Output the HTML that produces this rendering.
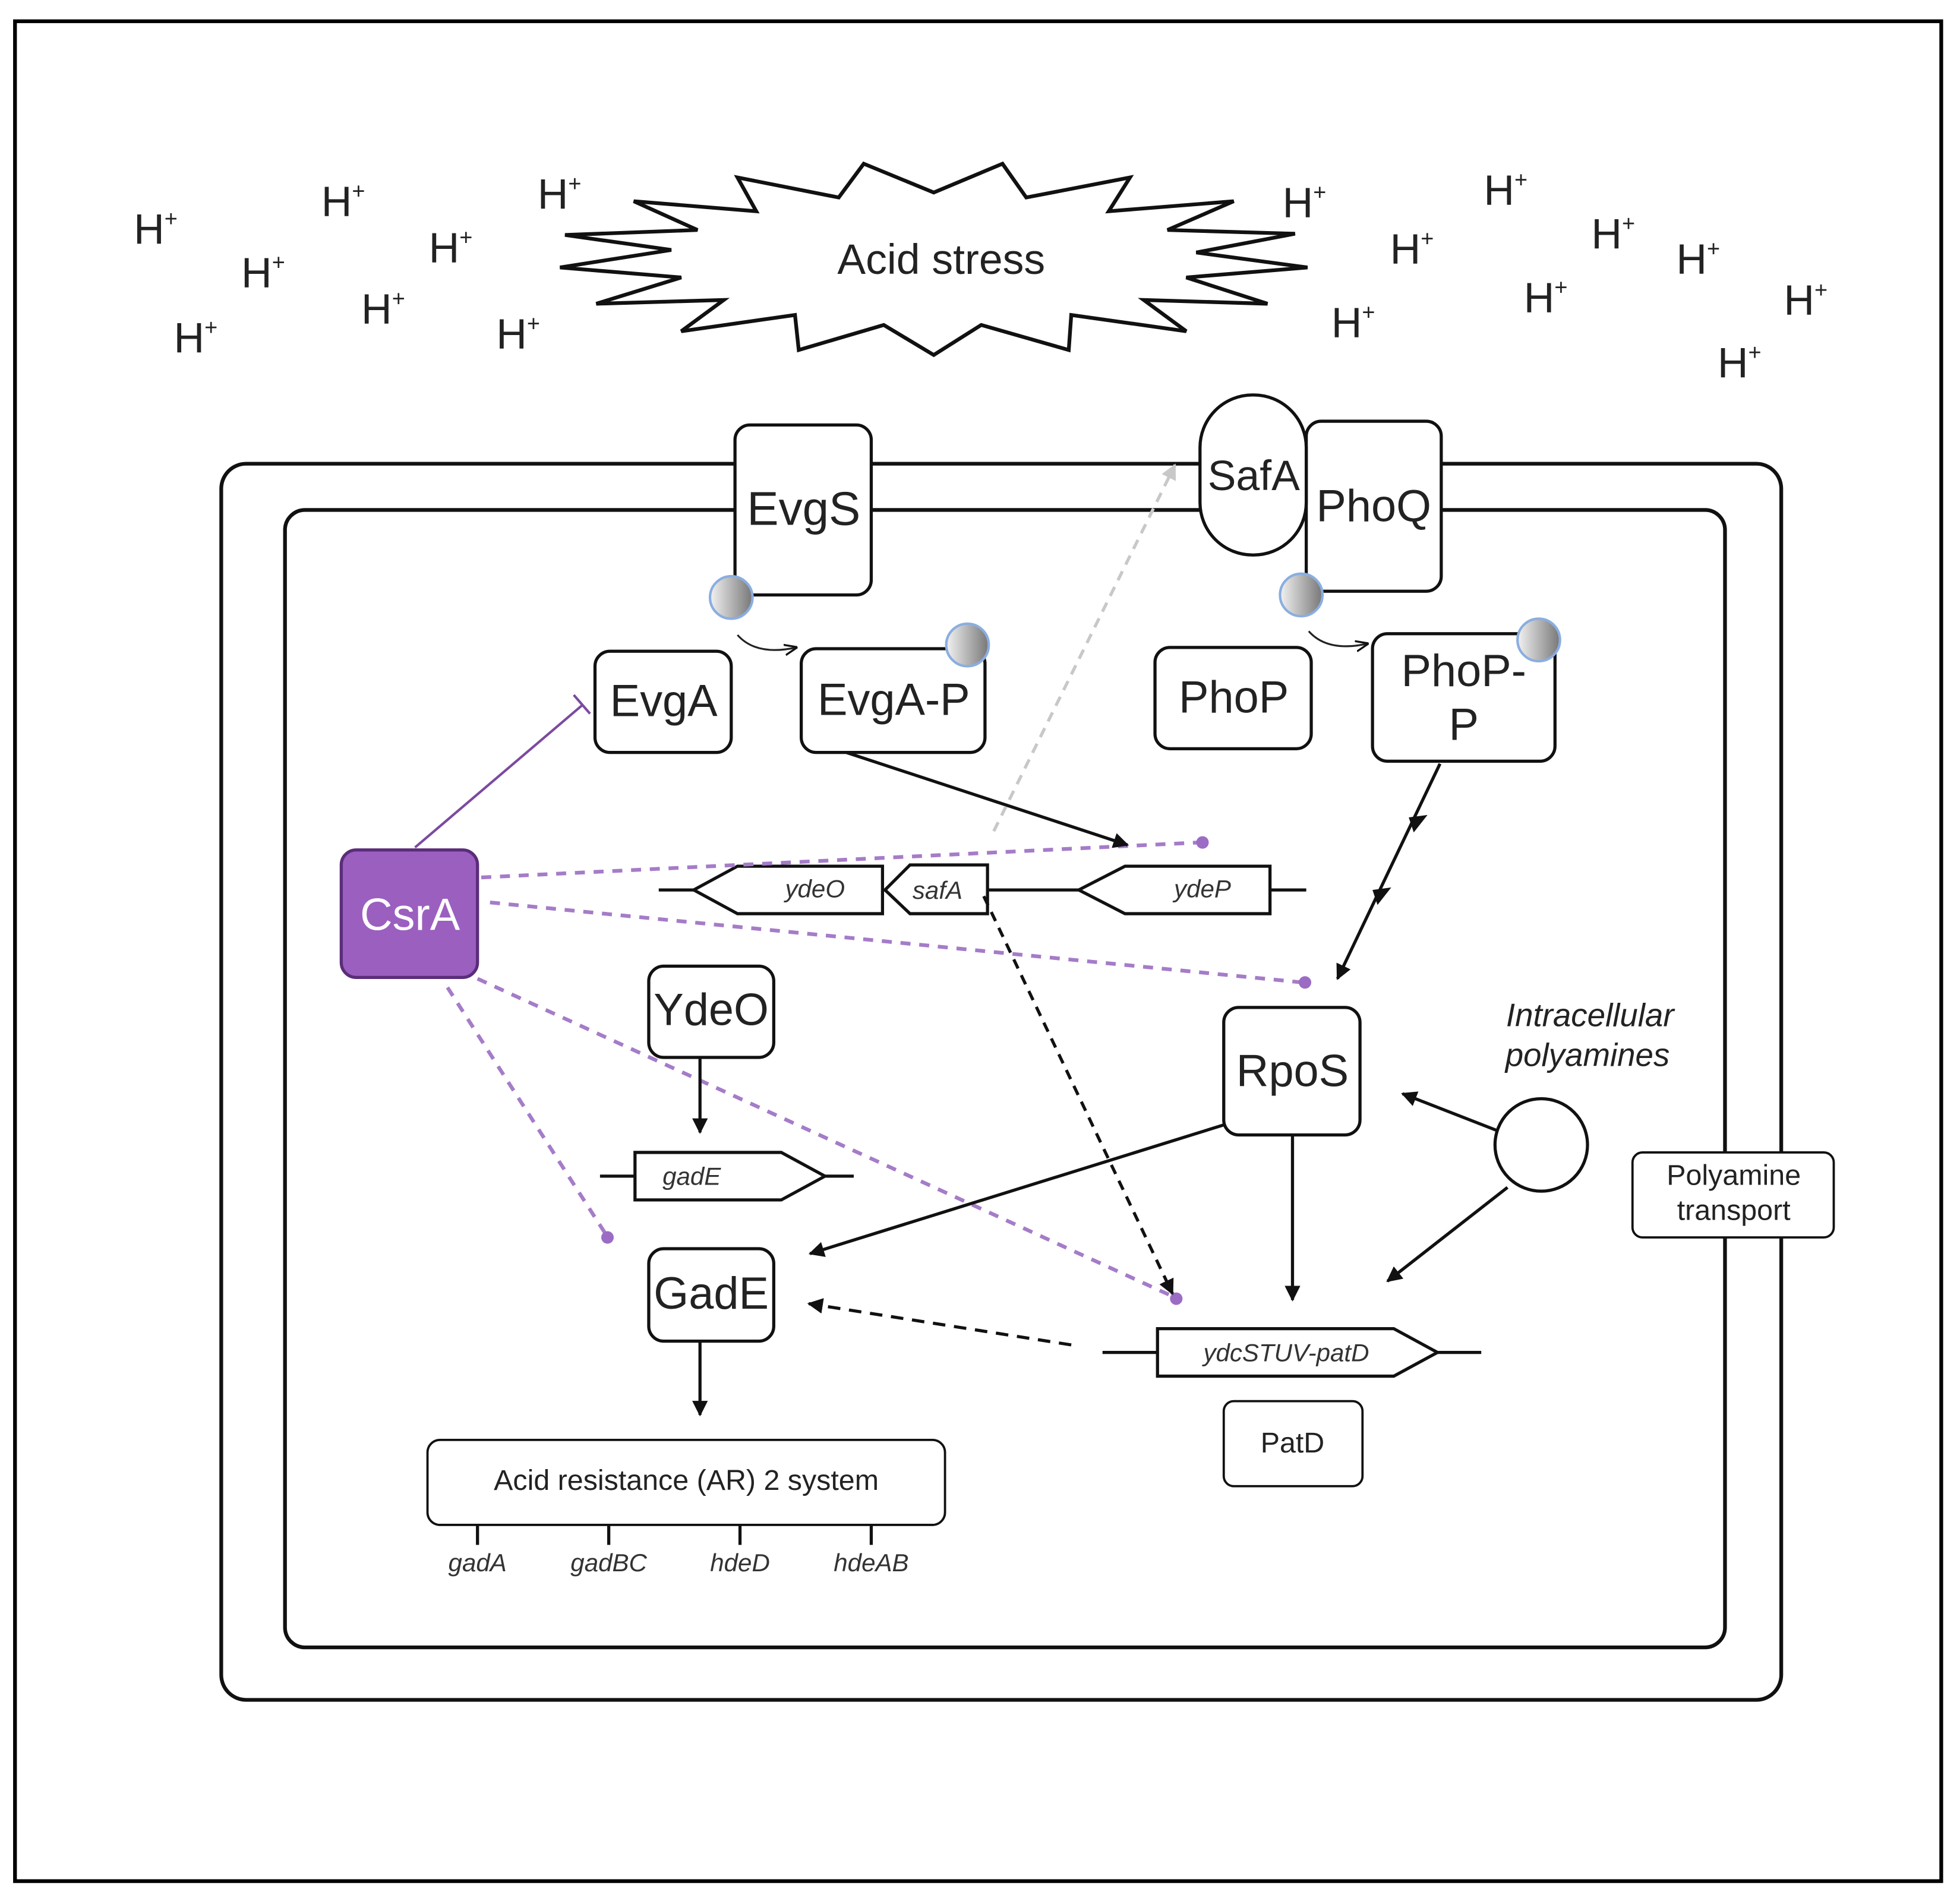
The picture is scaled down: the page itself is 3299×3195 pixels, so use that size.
<!DOCTYPE html>
<html><head><meta charset="utf-8"><style>
html,body{margin:0;padding:0;background:#fff;}
svg{display:block;}
text{font-family:"Liberation Sans",sans-serif;}
</style></head><body>
<svg width="3299" height="3195" viewBox="0 0 1568 1518.5" preserveAspectRatio="none" xmlns="http://www.w3.org/2000/svg">
<defs>
<marker id="ah" viewBox="0 0 10 10" refX="9" refY="5" markerWidth="5" markerHeight="5" orient="auto-start-reverse"><path d="M0,0 L10,5 L0,10 Z" fill="#111"/></marker>
<marker id="ahs" viewBox="0 0 10 10" refX="9" refY="5" markerWidth="7" markerHeight="7" orient="auto"><path d="M0,1 L10,5 L0,9" fill="none" stroke="#111" stroke-width="1.5"/></marker>
<marker id="ahg" viewBox="0 0 10 10" refX="9" refY="5" markerWidth="5" markerHeight="5" orient="auto"><path d="M0,0 L10,5 L0,10 Z" fill="#c8c8c8"/></marker>
<linearGradient id="gg" x1="0" y1="0" x2="1" y2="0"><stop offset="0" stop-color="#f2f2f2"/><stop offset="1" stop-color="#777"/></linearGradient>
</defs>
<rect width="1568" height="1518.5" fill="#fff"/>
<rect x="12" y="17" width="1541" height="1488" fill="none" stroke="#000" stroke-width="3"/>

<polygon points="691,131 747,154 802,131 821,158 904,142 887,169 987,161 934,184 1036,187 957,202 1046,214 949,222 1014,243 915,240 949,265 857,252 855,280 785,260 747,284 707,260 639,280 636,252 545,265 579,240 477,243 545,222 448,214 537,200 452,188 558,184 507,161 605,169 590,142 671,158" fill="#fff" stroke="#111" stroke-width="3"/>
<text x="753" y="219" font-size="34" text-anchor="middle" fill="#222">Acid stress</text>

<g font-size="34" fill="#222">
<text x="107" y="195">H<tspan font-size="18" dy="-14">+</tspan></text>
<text x="257" y="173">H<tspan font-size="18" dy="-14">+</tspan></text>
<text x="430" y="167">H<tspan font-size="18" dy="-14">+</tspan></text>
<text x="343" y="210">H<tspan font-size="18" dy="-14">+</tspan></text>
<text x="193" y="230">H<tspan font-size="18" dy="-14">+</tspan></text>
<text x="289" y="259">H<tspan font-size="18" dy="-14">+</tspan></text>
<text x="139" y="282">H<tspan font-size="18" dy="-14">+</tspan></text>
<text x="397" y="279">H<tspan font-size="18" dy="-14">+</tspan></text>
<text x="1026" y="174">H<tspan font-size="18" dy="-14">+</tspan></text>
<text x="1187" y="164">H<tspan font-size="18" dy="-14">+</tspan></text>
<text x="1112" y="211">H<tspan font-size="18" dy="-14">+</tspan></text>
<text x="1273" y="199">H<tspan font-size="18" dy="-14">+</tspan></text>
<text x="1341" y="219">H<tspan font-size="18" dy="-14">+</tspan></text>
<text x="1219" y="250">H<tspan font-size="18" dy="-14">+</tspan></text>
<text x="1065" y="270">H<tspan font-size="18" dy="-14">+</tspan></text>
<text x="1427" y="252">H<tspan font-size="18" dy="-14">+</tspan></text>
<text x="1374" y="302">H<tspan font-size="18" dy="-14">+</tspan></text>
</g>

<rect x="177" y="371" width="1248" height="989" rx="20" fill="none" stroke="#111" stroke-width="3"/>
<rect x="228" y="408" width="1152" height="910" rx="16" fill="none" stroke="#111" stroke-width="3"/>

<g fill="#fff" stroke="#111" stroke-width="2.5">
<rect x="588" y="340" width="109" height="136" rx="12"/>
<rect x="1045" y="337" width="108" height="136" rx="12"/>
<rect x="960" y="316" width="85" height="128" rx="42"/>
</g>
<text x="643" y="420" font-size="38" text-anchor="middle" fill="#222">EvgS</text>
<text x="1003" y="392" font-size="34" text-anchor="middle" fill="#222">SafA</text>
<text x="1099" y="417" font-size="36" text-anchor="middle" fill="#222">PhoQ</text>

<path d="M590,508 Q605,525 637,518" fill="none" stroke="#222" stroke-width="1.5" marker-end="url(#ahs)"/>
<path d="M1047,505 Q1062,522 1094,515" fill="none" stroke="#222" stroke-width="1.5" marker-end="url(#ahs)"/>

<g fill="#fff" stroke="#111" stroke-width="2.5">
<rect x="476" y="521" width="109" height="81" rx="12"/>
<rect x="641" y="519" width="147" height="83" rx="12"/>
<rect x="924" y="518" width="125" height="81" rx="12"/>
<rect x="1098" y="507" width="146" height="102" rx="12"/>
<rect x="519" y="773" width="100" height="73" rx="12"/>
<rect x="519" y="999" width="100" height="74" rx="12"/>
<rect x="979" y="806" width="109" height="102" rx="12"/>
</g>
<g fill="url(#gg)" stroke="#8aaee0" stroke-width="2">
<circle cx="585" cy="478" r="17"/>
<circle cx="1041" cy="476" r="17"/>
<circle cx="774" cy="516" r="17"/>
<circle cx="1231" cy="512" r="17"/>
</g>
<g fill="#fff" stroke="#111" stroke-width="1.8">
<rect x="1306" y="922" width="161" height="68" rx="8"/>
<rect x="979" y="1121" width="111" height="68" rx="8"/>
<rect x="342" y="1152" width="414" height="68" rx="10"/>
</g>
<rect x="273" y="680" width="109" height="102" rx="12" fill="#9b5fc0" stroke="#5a2d7a" stroke-width="2.5"/>

<g font-size="36" fill="#222" text-anchor="middle">
<text x="531" y="573">EvgA</text>
<text x="715" y="572">EvgA-P</text>
<text x="987" y="570">PhoP</text>
<text x="1171" y="549">PhoP-</text>
<text x="1171" y="592">P</text>
<text x="569" y="820">YdeO</text>
<text x="569" y="1047">GadE</text>
<text x="1034" y="869">RpoS</text>
</g>
<text x="328" y="744" font-size="36" fill="#fff" text-anchor="middle">CsrA</text>
<g font-size="23" fill="#222" text-anchor="middle">
<text x="1387" y="948">Polyamine</text>
<text x="1387" y="976">transport</text>
<text x="1034" y="1162">PatD</text>
<text x="549" y="1192">Acid resistance (AR) 2 system</text>
</g>
<g font-size="26" fill="#222" font-style="italic" text-anchor="middle">
<text x="1272" y="821">Intracellular</text>
<text x="1270" y="853">polyamines</text>
</g>

<g stroke="#111" stroke-width="2.5">
<line x1="382" y1="1220" x2="382" y2="1236"/>
<line x1="487" y1="1220" x2="487" y2="1236"/>
<line x1="592" y1="1220" x2="592" y2="1236"/>
<line x1="697" y1="1220" x2="697" y2="1236"/>
</g>
<g font-size="20" fill="#333" font-style="italic" text-anchor="middle">
<text x="382" y="1257">gadA</text>
<text x="487" y="1257">gadBC</text>
<text x="592" y="1257">hdeD</text>
<text x="697" y="1257">hdeAB</text>
</g>

<g fill="#fff" stroke="#111" stroke-width="2.5">
<line x1="527" y1="712" x2="1045" y2="712"/>
<polygon points="555,712 590,693 706,693 706,731 590,731"/>
<polygon points="708,712 728,692 790,692 790,731 728,731"/>
<polygon points="863,712 900,693 1016,693 1016,731 900,731"/>
<line x1="480" y1="941" x2="683" y2="941"/>
<polygon points="508,922 625,922 660,941 625,960 508,960"/>
<line x1="882" y1="1082" x2="1185" y2="1082"/>
<polygon points="926,1063 1115,1063 1150,1082 1115,1101 926,1101"/>
</g>
<g font-size="20" fill="#333" font-style="italic">
<text x="652" y="718" text-anchor="middle">ydeO</text>
<text x="750" y="719" text-anchor="middle">safA</text>
<text x="962" y="718" text-anchor="middle">ydeP</text>
<text x="530" y="948">gadE</text>
<text x="1029" y="1089" text-anchor="middle">ydcSTUV-patD</text>
</g>

<line x1="332" y1="678" x2="466" y2="564" stroke="#7b4aa0" stroke-width="2"/>
<line x1="459" y1="556" x2="472" y2="571" stroke="#7b4aa0" stroke-width="2"/>
<g stroke="#a57cc8" stroke-width="3" stroke-dasharray="8,7" fill="none">
<line x1="385" y1="702" x2="960" y2="674"/>
<line x1="392" y1="722" x2="1042" y2="786"/>
<line x1="382" y1="783" x2="940" y2="1038"/>
<line x1="358" y1="790" x2="485" y2="988"/>
</g>
<g fill="#9b6cc4">
<circle cx="962" cy="674" r="5"/>
<circle cx="1044" cy="786" r="5"/>
<circle cx="941" cy="1039" r="5"/>
<circle cx="486" cy="990" r="5"/>
</g>

<g stroke="#111" stroke-width="2.5" fill="none">
<line x1="677" y1="602" x2="902" y2="676" marker-end="url(#ah)"/>
<line x1="1152" y1="611" x2="1070" y2="783" marker-end="url(#ah)"/>
<line x1="560" y1="846" x2="560" y2="906" marker-end="url(#ah)"/>
<line x1="560" y1="1073" x2="560" y2="1132" marker-end="url(#ah)"/>
<line x1="979" y1="900" x2="648" y2="1003" marker-end="url(#ah)"/>
<line x1="1034" y1="908" x2="1034" y2="1040" marker-end="url(#ah)"/>
<line x1="1199" y1="905" x2="1122" y2="875" marker-end="url(#ah)"/>
<line x1="1206" y1="950" x2="1110" y2="1025" marker-end="url(#ah)"/>
<line x1="787" y1="717" x2="938" y2="1035" stroke-dasharray="8,6" marker-end="url(#ah)"/>
<line x1="857" y1="1076" x2="647" y2="1043" stroke-dasharray="10,7" marker-end="url(#ah)"/>
</g>
<path d="M1127,654 L1142,652 L1131,666 Z M1098,712 L1113,710 L1102,724 Z" fill="#111"/>
<line x1="795" y1="665" x2="940" y2="372" stroke="#c8c8c8" stroke-width="2.5" stroke-dasharray="8,6" marker-end="url(#ahg)"/>
<circle cx="1233" cy="916" r="37" fill="#fff" stroke="#111" stroke-width="2.5"/>
</svg>
</body></html>
